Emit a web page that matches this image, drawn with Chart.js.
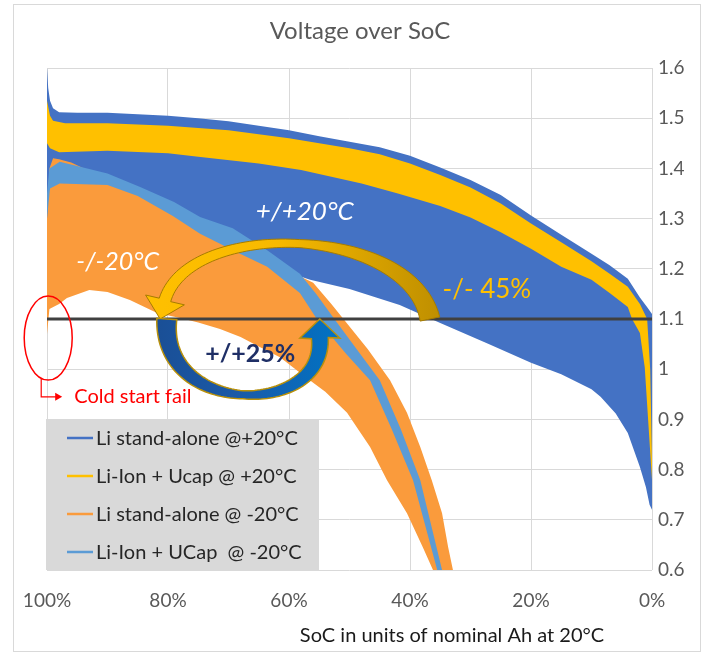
<!DOCTYPE html>
<html>
<head>
<meta charset="utf-8">
<title>Voltage over SoC</title>
<script src="https://cdn.jsdelivr.net/npm/chart.js@4.4.1/dist/chart.umd.min.js"></script>
<style>
  html, body { margin: 0; padding: 0; background: #ffffff; }
  #wrap { position: relative; width: 707px; height: 656px; }
  canvas { display: block; }
</style>
</head>
<body>
<div id="wrap"><canvas id="chart" width="707" height="656"></canvas></div>
<script>
// ---- series ----
const seriesNames = [
  'Li stand-alone @+20°C',
  'Li-Ion + Ucap @ +20°C',
  'Li stand-alone @ -20°C',
  'Li-Ion + UCap  @ -20°C'
];
const seriesColors = ['#4472C4', '#FFC000', '#FA9B3C', '#5B9BD5'];

// voltage envelopes of each cycling band, as [SoC %, V]
const liWarmUpper = [[100,1.60],[99.8,1.56],[99.5,1.535],[99,1.52],[98,1.512],[95,1.511],[90,1.511],[85,1.508],[80,1.505],[75,1.5],[70,1.494],[65,1.485],[60,1.476],[55,1.464],[50,1.453],[45,1.442],[40,1.425],[35,1.402],[30,1.377],[25,1.347],[20,1.306],[15,1.268],[10,1.23],[7,1.207],[4,1.18],[2,1.143],[0.7,1.122],[0,1.11]];
const liWarmLower = [[100,1.30],[90,1.29],[80,1.27],[70,1.24],[62,1.20],[56.5,1.178],[50,1.16],[41.7,1.128],[35,1.092],[27,1.05],[20,1.013],[15,0.99],[10,0.96],[8.5,0.945],[6,0.912],[4,0.873],[2,0.805],[1,0.765],[0.4,0.73],[0,0.72]];

const ucapWarmUpper = [[100,1.535],[99.5,1.505],[99,1.495],[97,1.49],[90,1.49],[80,1.485],[70,1.476],[60,1.46],[50,1.44],[45,1.428],[40,1.41],[35,1.387],[30,1.362],[25,1.33],[20,1.29],[15,1.253],[10,1.215],[7,1.19],[4,1.164],[2,1.13],[0.8,1.10],[0.3,1.0],[0,0.82]];
const ucapWarmLower = [[100,1.45],[99.5,1.44],[98,1.432],[90,1.435],[80,1.43],[75,1.423],[65,1.41],[58,1.397],[48,1.37],[42,1.35],[35,1.325],[30,1.302],[25,1.273],[20,1.24],[15,1.204],[10,1.178],[7,1.152],[4,1.124],[3.3,1.10],[2,1.072],[1.2,1.004],[0.5,0.873],[0,0.78]];

// the cold bands run on below the 0.6 V floor of the axis
const liColdUpper = [[100,1.30],[99.6,1.40],[99,1.42],[98,1.418],[96,1.412],[93,1.395],[85,1.355],[75,1.295],[69,1.27],[63.6,1.228],[58.2,1.185],[56,1.172],[53,1.13],[51,1.10],[47,1.04],[43.3,0.978],[40.5,0.913],[38.3,0.845],[36.4,0.779],[34.7,0.713],[33.7,0.646],[32.9,0.60],[32.2,0.52],[31.5,0.44]];
const liColdLower = [[100,1.07],[99.6,1.12],[98,1.13],[96.7,1.142],[93,1.158],[90,1.154],[86.3,1.138],[81.8,1.112],[78,1.102],[75,1.093],[71.4,1.08],[68,1.064],[65,1.045],[61.5,1.024],[57,0.982],[54,0.955],[50.4,0.913],[46.6,0.845],[43.8,0.779],[40.5,0.713],[37.9,0.646],[36.2,0.60],[35.5,0.52],[34.8,0.44],[31.5,0.30]];

const ucapColdUpper = [[100,1.35],[99.6,1.40],[97.9,1.413],[95.7,1.407],[90,1.39],[84.6,1.363],[79,1.333],[74.7,1.303],[69.3,1.281],[63.6,1.237],[58.2,1.19],[55.5,1.15],[52.5,1.10],[48.5,1.035],[45,0.978],[41.5,0.88],[38.3,0.779],[34.7,0.60],[33.8,0.52],[33.0,0.44]];
const ucapColdLower = [[100,1.30],[99.5,1.36],[97.9,1.37],[90,1.367],[85,1.345],[79.2,1.305],[74.7,1.27],[71.4,1.25],[69.3,1.237],[63.6,1.204],[58.2,1.152],[55.4,1.10],[50.5,1.03],[46.6,0.978],[43,0.88],[39.5,0.779],[35.5,0.60],[34.6,0.52],[33.8,0.44],[33.0,0.35]];

// cold-start voltage limit
const thresholdV = 1.1;

// ---- axes ----
const xTickValues = [100, 80, 60, 40, 20, 0];
const xTickLabels = ['100%', '80%', '60%', '40%', '20%', '0%'];
const yTickLabels = ['0.6', '0.7', '0.8', '0.9', '1', '1.1', '1.2', '1.3', '1.4', '1.5', '1.6'];

const chartTitle = 'Voltage over SoC';
const xAxisTitle = 'SoC in units of nominal Ah at 20°C';

const FONT = 'Lato, "Open Sans", sans-serif';
const TICK_GREY = '#595959';

const toXY = arr => arr.map(([x, y]) => ({ x, y }));

function band(idx, upper, lower) {
  return [
    { label: seriesNames[idx], data: toXY(upper), backgroundColor: seriesColors[idx],
      borderColor: 'rgba(0,0,0,0)', borderWidth: 0, fill: '+1', pointRadius: 0, tension: 0 },
    { label: seriesNames[idx] + ' lower', data: toXY(lower),
      borderColor: 'rgba(0,0,0,0)', borderWidth: 0, fill: false, pointRadius: 0, tension: 0 }
  ];
}

// index 0 is painted last (on top)
const datasets = [
  { label: 'limit', data: [{ x: 100, y: thresholdV }, { x: 0, y: thresholdV }],
    borderColor: '#404040', borderWidth: 3, fill: false, pointRadius: 0 },
  ...band(3, ucapColdUpper, ucapColdLower),
  ...band(2, liColdUpper, liColdLower),
  ...band(1, ucapWarmUpper, ucapWarmLower),
  ...band(0, liWarmUpper, liWarmLower)
];

// ---- drawing helpers ----
function cubic(c, t) {
  const u = 1 - t;
  return [0, 1].map(k => u*u*u*c[0][k] + 3*u*u*t*c[1][k] + 3*u*t*t*c[2][k] + t*t*t*c[3][k]);
}
function cubicD(c, t) {
  const u = 1 - t;
  return [0, 1].map(k => 3*u*u*(c[1][k]-c[0][k]) + 6*u*t*(c[2][k]-c[1][k]) + 3*t*t*(c[3][k]-c[2][k]));
}

// block arrow bent along a cubic centre line, tapering tail -> middle -> head
function curvedArrow(ctx, c, tip, widths, headHalf, fillStyle, strokeStyle, strokeWidth) {
  const N = 80, L = [], R = [];
  for (let i = 0; i <= N; i++) {
    const t = i / N;
    const p = cubic(c, t), d = cubicD(c, t);
    const len = Math.hypot(d[0], d[1]);
    const nx = -d[1] / len, ny = d[0] / len;
    const w = t < 0.5 ? widths[0] + (widths[1] - widths[0]) * t * 2
                      : widths[1] + (widths[2] - widths[1]) * (t - 0.5) * 2;
    L.push([p[0] + nx * w / 2, p[1] + ny * w / 2]);
    R.push([p[0] - nx * w / 2, p[1] - ny * w / 2]);
  }
  const end = c[3];
  const ax = tip[0] - end[0], ay = tip[1] - end[1];
  const al = Math.hypot(ax, ay);
  const hx = -ay / al, hy = ax / al;
  const dE = cubicD(c, 1);
  const s = (-dE[1] * hx + dE[0] * hy) >= 0 ? 1 : -1;
  ctx.beginPath();
  ctx.moveTo(L[0][0], L[0][1]);
  L.forEach(p => ctx.lineTo(p[0], p[1]));
  ctx.lineTo(end[0] + s * hx * headHalf, end[1] + s * hy * headHalf);
  ctx.lineTo(tip[0], tip[1]);
  ctx.lineTo(end[0] - s * hx * headHalf, end[1] - s * hy * headHalf);
  for (let i = N; i >= 0; i--) ctx.lineTo(R[i][0], R[i][1]);
  ctx.closePath();
  ctx.fillStyle = fillStyle;
  ctx.fill();
  ctx.lineWidth = strokeWidth;
  ctx.strokeStyle = strokeStyle;
  ctx.stroke();
}

const framePlugin = {
  id: 'frame',
  beforeDraw(chart) {
    const ctx = chart.ctx;
    ctx.save();
    ctx.fillStyle = '#ffffff';
    ctx.fillRect(0, 0, chart.width, chart.height);
    ctx.strokeStyle = '#d9d9d9';
    ctx.lineWidth = 1;
    ctx.strokeRect(13.5, 4.5, 687, 647);
    ctx.restore();
  },
  afterDraw(chart) {
    const ctx = chart.ctx;
    ctx.save();
    ctx.textBaseline = 'middle';
    ctx.textAlign = 'center';
    ctx.fillStyle = TICK_GREY;
    ctx.font = '24px ' + FONT;
    ctx.fillText(chartTitle, 360, 31);
    ctx.fillStyle = '#1a1a1a';
    ctx.font = '20px ' + FONT;
    ctx.fillText(xAxisTitle, 452, 636);
    ctx.restore();
  }
};

const notesPlugin = {
  id: 'notes',
  afterDatasetsDraw(chart) {
    const ctx = chart.ctx;
    const xs = chart.scales.x, ys = chart.scales.y;
    const P = p => [xs.getPixelForValue(p[0]), ys.getPixelForValue(p[1])];
    ctx.save();

    // gain at -20°C (gold arrow, right to left)
    const gold = [[36.7, 1.10], [40.0, 1.287], [76.4, 1.301], [80.5, 1.138]].map(P);
    const goldTip = P([81.3, 1.10]);
    let g = ctx.createLinearGradient(goldTip[0] - 15, 0, gold[0][0] + 10, 0);
    g.addColorStop(0, '#FFC000');
    g.addColorStop(0.45, '#F7B900');
    g.addColorStop(1, '#BF8F00');
    curvedArrow(ctx, gold, goldTip, [20, 8, 12], 20, g, '#a67c00', 1);

    // gain at +20°C (blue arrow, left to right)
    const blue = [[80.2, 1.10], [81.3, 0.905], [54.0, 0.905], [54.9, 1.062]].map(P);
    const blueTip = P([54.9, 1.10]);
    g = ctx.createLinearGradient(blue[0][0] - 10, 0, blueTip[0] + 20, 0);
    g.addColorStop(0, '#1a4f96');
    g.addColorStop(0.45, '#1a5aa8');
    g.addColorStop(1, '#0073c4');
    curvedArrow(ctx, blue, blueTip, [20, 8, 17], 20, g, '#b8900a', 1.5);

    // band labels
    ctx.textAlign = 'center';
    ctx.textBaseline = 'middle';
    let p = P([57.4, 1.313]);
    ctx.fillStyle = '#ffffff';
    ctx.font = 'italic 26px ' + FONT;
    ctx.fillText('+/+20°C', p[0], p[1]);
    p = P([88.3, 1.214]);
    ctx.font = 'italic 25px ' + FONT;
    ctx.fillText('-/-20°C', p[0], p[1]);
    p = P([27.3, 1.158]);
    ctx.fillStyle = '#FFC000';
    ctx.font = '26px ' + FONT;
    ctx.fillText('-/- 45%', p[0], p[1]);
    p = P([66.4, 1.030]);
    ctx.fillStyle = '#1f2f66';
    ctx.font = 'bold 25px ' + FONT;
    ctx.fillText('+/+25%', p[0], p[1]);

    // cold start marker
    const c = P([99.8, 1.062]);
    const rx = 24, ry = 42;
    ctx.strokeStyle = '#ff0000';
    ctx.lineWidth = 1.5;
    ctx.beginPath();
    ctx.ellipse(c[0], c[1], rx, ry, 0, 0, Math.PI * 2);
    ctx.stroke();
    const t = P([95.5, 0.945]);
    const lx = c[0] - 7;
    ctx.lineWidth = 1.2;
    ctx.beginPath();
    ctx.moveTo(lx, c[1] + ry - 2);
    ctx.lineTo(lx, t[1]);
    ctx.lineTo(lx + 15, t[1]);
    ctx.stroke();
    ctx.fillStyle = '#ff0000';
    ctx.beginPath();
    ctx.moveTo(lx + 14, t[1] - 4);
    ctx.lineTo(lx + 21, t[1]);
    ctx.lineTo(lx + 14, t[1] + 4);
    ctx.closePath();
    ctx.fill();
    ctx.textAlign = 'left';
    ctx.font = '20px ' + FONT;
    ctx.fillText('Cold start fail', t[0], t[1]);

    // legend box
    const ca = chart.chartArea;
    const bx = ca.left - 1, bw = 273, bh = 151, by = ca.bottom - bh;
    ctx.fillStyle = '#d9d9d9';
    ctx.fillRect(bx, by, bw, bh);
    ctx.font = '20px ' + FONT;
    ctx.textBaseline = 'middle';
    seriesNames.forEach((name, i) => {
      const yy = by + 19 + i * 38;
      ctx.strokeStyle = seriesColors[i];
      ctx.lineWidth = 2.5;
      ctx.beginPath();
      ctx.moveTo(bx + 21, yy);
      ctx.lineTo(bx + 47, yy);
      ctx.stroke();
      ctx.fillStyle = '#262626';
      ctx.fillText(name, bx + 50, yy + 1);
    });
    ctx.restore();
  }
};

function build() {
  new Chart(document.getElementById('chart'), {
    type: 'line',
    data: { datasets },
    options: {
      responsive: false,
      animation: false,
      devicePixelRatio: 1,
      layout: { padding: { left: 47, top: 68, right: 0, bottom: 0 } },
      elements: { point: { radius: 0 }, line: { tension: 0 } },
      scales: {
        x: {
          type: 'linear', min: 0, max: 100, reverse: true,
          afterFit(s) { s.height = 86; },
          border: { display: false },
          grid: { color: '#d9d9d9', lineWidth: 1, drawTicks: false },
          ticks: {
            stepSize: 20, padding: 19, color: TICK_GREY,
            font: { family: FONT, size: 19 },
            maxRotation: 0,
            callback: v => { const i = xTickValues.indexOf(Math.round(v)); return i >= 0 ? xTickLabels[i] : ''; }
          }
        },
        y: {
          position: 'right', min: 0.6, max: 1.6,
          afterFit(s) { s.width = 55; },
          border: { display: false },
          grid: { color: '#d9d9d9', lineWidth: 1, drawTicks: false },
          ticks: {
            stepSize: 0.1, padding: 6, color: TICK_GREY,
            font: { family: FONT, size: 19 },
            callback: v => yTickLabels[Math.round((v - 0.6) * 10)]
          }
        }
      },
      plugins: {
        legend: { display: false },
        tooltip: { enabled: false },
        title: { display: false },
        filler: { propagate: false }
      }
    },
    plugins: [framePlugin, notesPlugin]
  });
}

if (document.fonts && document.fonts.load) {
  Promise.all([
    document.fonts.load('20px Lato'),
    document.fonts.load('italic 20px Lato'),
    document.fonts.load('bold 20px Lato')
  ]).then(build, build);
} else {
  build();
}
</script>
</body>
</html>
